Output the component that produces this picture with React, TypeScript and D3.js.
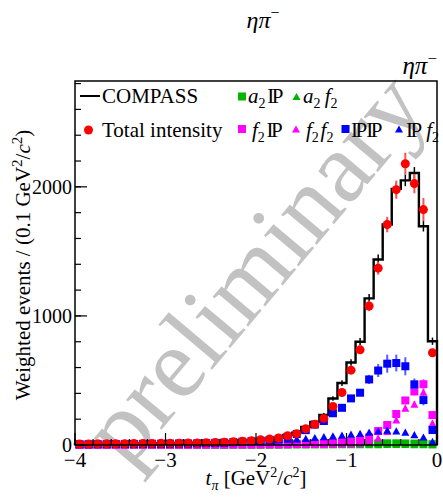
import React from 'react';
import * as d3 from 'd3';

// t_pi binning: 40 bins of 0.1 GeV^2/c^2 from -4 to 0
const tMin = -4;
const tMax = 0;
const nBins = 40;

// COMPASS data (histogram) and its statistical errors
const compass = [7, 9, 8, 10, 9, 11, 10, 12, 12, 14, 13, 15, 15, 17, 19, 21, 23, 27, 31, 35, 42, 48, 57, 78, 96, 140, 178, 232, 360, 480, 639, 800, 1136, 1437, 1708, 1984, 2050, 2107, 1695, 804];
const compassErr = [3, 3, 3, 3, 3, 3, 3, 4, 4, 4, 4, 4, 4, 4, 4, 5, 5, 5, 6, 6, 6, 7, 8, 9, 10, 12, 13, 15, 18, 22, 25, 28, 34, 38, 41, 45, 45, 46, 41, 28];

// Model: total intensity
const total = [8, 8, 9, 9, 10, 10, 11, 11, 12, 13, 13, 14, 15, 16, 18, 20, 22, 26, 30, 33, 40, 46, 54, 72, 88, 126, 160, 206, 299, 407, 580, 737, 1077, 1370, 1708, 1978, 2179, 2025, 1824, 715];
const totalErr = [2, 2, 2, 2, 2, 2, 2, 2, 2, 3, 3, 3, 3, 3, 3, 4, 4, 4, 5, 5, 6, 6, 7, 8, 9, 11, 12, 14, 17, 20, 24, 28, 40, 50, 60, 70, 85, 75, 90, 30];

// Model components
const a2IP = [1, 1, 1, 1, 1, 1, 1, 1, 1, 1, 1, 2, 2, 2, 2, 2, 2, 3, 3, 3, 3, 4, 4, 4, 5, 5, 6, 6, 7, 8, 9, 10, 11, 12, 13, 13, 12, 11, 9, 6];
const a2f2 = [0, 0, 0, 0, 0, 0, 0, 0, 0, 0, 0, 0, 1, 1, 1, 1, 1, 1, 1, 1, 1, 1, 1, 2, 2, 2, 2, 2, 2, 3, 3, 3, 3, 3, 4, 4, 4, 3, 3, 2];
const f2IP = [2, 2, 2, 2, 2, 2, 3, 3, 3, 3, 3, 3, 3, 4, 4, 4, 4, 5, 5, 5, 6, 6, 7, 8, 9, 10, 12, 14, 18, 22, 28, 38, 58, 108, 155, 240, 345, 415, 471, 232];
const f2IPErr = [0, 0, 0, 0, 0, 0, 0, 0, 0, 0, 0, 0, 0, 0, 0, 0, 0, 0, 0, 0, 1, 1, 1, 1, 1, 2, 2, 2, 3, 3, 4, 5, 7, 10, 14, 20, 28, 30, 40, 25];
const f2f2 = [1, 1, 1, 1, 1, 1, 1, 1, 1, 1, 1, 1, 1, 1, 1, 2, 2, 2, 2, 2, 2, 3, 3, 3, 4, 4, 5, 5, 6, 8, 10, 15, 25, 55, 105, 195, 285, 317, 410, 170];
const f2f2Err = [0, 0, 0, 0, 0, 0, 0, 0, 0, 0, 0, 0, 0, 0, 0, 0, 0, 0, 0, 0, 0, 0, 0, 0, 1, 1, 1, 1, 1, 2, 2, 3, 5, 8, 12, 18, 22, 25, 30, 20];
const ipIP = [6, 6, 7, 7, 8, 8, 9, 9, 10, 10, 11, 12, 12, 13, 15, 17, 19, 22, 26, 29, 34, 40, 48, 64, 85, 115, 158, 186, 246, 288, 361, 405, 508, 577, 630, 635, 610, 470, 348, 116];
const ipIPErr = [1, 1, 1, 1, 1, 1, 1, 1, 1, 1, 1, 1, 2, 2, 2, 2, 2, 3, 3, 3, 4, 4, 5, 6, 7, 8, 10, 12, 15, 18, 22, 25, 35, 50, 70, 65, 70, 45, 40, 25];
const ipf2 = [5, 5, 6, 6, 6, 7, 7, 8, 8, 9, 9, 10, 11, 12, 13, 15, 17, 20, 24, 28, 31, 35, 40, 45, 48, 52, 58, 65, 70, 76, 84, 90, 100, 110, 116, 110, 100, 80, 62, 28];
const ipf2Err = [0, 0, 0, 0, 0, 0, 0, 0, 0, 0, 0, 0, 1, 1, 1, 1, 1, 1, 1, 1, 2, 2, 2, 2, 2, 3, 3, 3, 3, 4, 4, 4, 5, 5, 6, 6, 6, 5, 5, 4];

// Axis ticks
const xTicks = [-4, -3, -2, -1, 0];
const xTickLabels = ['\u22124', '\u22123', '\u22122', '\u22121', '0'];
const yTicks = [0, 1000, 2000];
const yTickLabels = ['0', '1000', '2000'];

const W = 443;
const H = 497;
const M = { left: 75, right: 437, top: 81, bottom: 445 };
const yMax = 2820;

const RED = '#ff0000';
const BLUE = '#0000ff';
const MAGENTA = '#ff00ff';
const GREEN = '#00b400';
const SERIF = '"Liberation Serif", "Times New Roman", serif';

const x = d3.scaleLinear().domain([tMin, tMax]).range([M.left, M.right]);
const y = d3.scaleLinear().domain([0, yMax]).range([M.bottom, M.top]);
const binW = (tMax - tMin) / nBins;
const edges = d3.range(nBins + 1).map((i) => tMin + i * binW);
const centers = d3.range(nBins).map((i) => tMin + (i + 0.5) * binW);

type Shape = 'circle' | 'square' | 'triangle';

function Marker({ cx, cy, shape, color, size }: { cx: number; cy: number; shape: Shape; color: string; size: number }) {
  if (shape === 'circle') return <circle cx={cx} cy={cy} r={size / 2} fill={color} />;
  if (shape === 'square') return <rect x={cx - size / 2} y={cy - size / 2} width={size} height={size} fill={color} />;
  const h = size * 0.9;
  return (
    <path
      d={`M${cx - size / 2},${cy + h / 2}L${cx + size / 2},${cy + h / 2}L${cx},${cy - h / 2}Z`}
      fill={color}
    />
  );
}

function Series({ values, errors, shape, color, errColor, size }: {
  values: number[]; errors?: number[]; shape: Shape; color: string; errColor: string; size: number;
}) {
  return (
    <g>
      {errors &&
        values.map((v, i) =>
          errors[i] > 0 ? (
            <line key={'e' + i} x1={x(centers[i])} x2={x(centers[i])} y1={y(v - errors[i])} y2={y(v + errors[i])} stroke={errColor} strokeWidth={2} />
          ) : null
        )}
      {values.map((v, i) => (
        <Marker key={i} cx={x(centers[i])} cy={y(v)} shape={shape} color={color} size={size} />
      ))}
    </g>
  );
}

// Pomeron symbol: I and P set closely together
function IP({ dx = 0 }: { dx?: number }) {
  return (
    <>
      <tspan dx={dx}>I</tspan>
      <tspan dx={-2.5}>P</tspan>
    </>
  );
}

function F2({ dx = 0 }: { dx?: number }) {
  return (
    <>
      <tspan dx={dx} fontStyle="italic">f</tspan>
      <tspan fontSize={14} dy={5}>2</tspan>
      <tspan dy={-5}>{'\u200a'}</tspan>
    </>
  );
}

export default function App() {
  const histPath =
    `M${x(edges[0])},${y(0)}` +
    compass.map((v, i) => `L${x(edges[i])},${y(v)}L${x(edges[i + 1])},${y(v)}`).join('') +
    `L${x(edges[nBins])},${y(0)}`;

  const xMinor = d3.range(-4, 0.001, 0.2).map((v) => Math.round(v * 10) / 10);
  const yMinor = d3.range(0, yMax + 1, 200);

  return (
    <svg width={W} height={H} style={{ position: 'absolute', left: 0, top: 0, background: '#fff' }} fontFamily={SERIF}>
      <rect x={0} y={0} width={W} height={H} fill="#fff" />

      {/* titles */}
      <text x={263} y={28} textAnchor="middle" fontSize={24} fontStyle="italic">
        ηπ<tspan dy={-10} fontSize={16} fontStyle="normal">−</tspan>
      </text>
      <text x={437} y={74} textAnchor="end" fontSize={25} fontStyle="italic">
        ηπ<tspan dy={-10} fontSize={17} fontStyle="normal">−</tspan>
      </text>

      {/* watermark */}
      <text
        transform="translate(256,270) rotate(-50)"
        textAnchor="middle"
        dy="0.3em"
        fontSize={101}
        fill="#c2c2c2"
      >
        preliminary
      </text>

      {/* histogram */}
      {compass.map((v, i) => (
        <line key={'he' + i} x1={x(centers[i])} x2={x(centers[i])} y1={y(v - compassErr[i])} y2={y(v + compassErr[i])} stroke="#000" strokeWidth={1.5} />
      ))}
      <path d={histPath} fill="none" stroke="#000" strokeWidth={2.4} />

      {/* model components */}
      <Series values={a2IP} shape="square" color={GREEN} errColor={GREEN} size={8} />
      <Series values={a2f2} shape="triangle" color={GREEN} errColor={GREEN} size={8} />
      <Series values={f2IP} errors={f2IPErr} shape="square" color={MAGENTA} errColor="#ff66ff" size={8} />
      <Series values={f2f2} errors={f2f2Err} shape="triangle" color={MAGENTA} errColor="#ff66ff" size={8} />
      <Series values={ipIP} errors={ipIPErr} shape="square" color={BLUE} errColor="#5a5aff" size={8} />
      <Series values={ipf2} errors={ipf2Err} shape="triangle" color={BLUE} errColor="#5a5aff" size={8} />
      <Series values={total} errors={totalErr} shape="circle" color={RED} errColor="#ff5050" size={9} />

      {/* frame */}
      <rect x={M.left} y={M.top} width={M.right - M.left} height={M.bottom - M.top} fill="none" stroke="#000" strokeWidth={1.5} />

      {/* x axis ticks */}
      {xMinor.map((t) => (
        <line key={'xm' + t} x1={x(t)} x2={x(t)} y1={M.bottom} y2={M.bottom - 6} stroke="#000" strokeWidth={1.2} />
      ))}
      {xTicks.map((t, i) => (
        <g key={'xt' + t}>
          <line x1={x(t)} x2={x(t)} y1={M.bottom} y2={M.bottom - 12} stroke="#000" strokeWidth={1.2} />
          <text x={x(t)} y={467} textAnchor="middle" fontSize={21}>
            {xTickLabels[i]}
          </text>
        </g>
      ))}

      {/* y axis ticks */}
      {yMinor.map((v) => (
        <line key={'ym' + v} x1={M.left} x2={M.left + 6} y1={y(v)} y2={y(v)} stroke="#000" strokeWidth={1.2} />
      ))}
      {yTicks.map((v, i) => (
        <g key={'yt' + v}>
          <line x1={M.left} x2={M.left + 12} y1={y(v)} y2={y(v)} stroke="#000" strokeWidth={1.2} />
          <text x={72} y={y(v) + 7} textAnchor="end" fontSize={20}>
            {yTickLabels[i]}
          </text>
        </g>
      ))}

      {/* axis titles */}
      <text x={256} y={485} textAnchor="middle" fontSize={21}>
        <tspan fontStyle="italic">t</tspan>
        <tspan fontSize={14} dy={5} fontStyle="italic">π</tspan>
        <tspan dy={-5}> [GeV</tspan>
        <tspan fontSize={14} dy={-8}>2</tspan>
        <tspan dy={8}>/</tspan>
        <tspan fontStyle="italic">c</tspan>
        <tspan fontSize={14} dy={-8}>2</tspan>
        <tspan dy={8}>]</tspan>
      </text>
      <text transform="translate(30,265) rotate(-90)" textAnchor="middle" fontSize={21}>
        Weighted events / (0.1 GeV<tspan fontSize={15} dy={-8}>2</tspan>
        <tspan dy={8}>/</tspan>
        <tspan fontStyle="italic">c</tspan>
        <tspan fontSize={15} dy={-8}>2</tspan>
        <tspan dy={8}>)</tspan>
      </text>

      {/* legend */}
      <g fontSize={21}>
        <line x1={80} x2={100} y1={96} y2={96} stroke="#000" strokeWidth={2} />
        <text x={102} y={103}>COMPASS</text>

        <Marker cx={242} cy={96.5} shape="square" color={GREEN} size={8} />
        <text x={248} y={103}>
          <tspan fontStyle="italic">a</tspan>
          <tspan fontSize={14} dy={5}>2</tspan>
          <tspan dy={-5}>{'\u200a'}</tspan>
          <IP />
        </text>
        <Marker cx={296.5} cy={96.5} shape="triangle" color={GREEN} size={8} />
        <text x={303} y={103}>
          <tspan fontStyle="italic">a</tspan>
          <tspan fontSize={14} dy={5}>2</tspan>
          <tspan dy={-5}>{'\u2009'}</tspan>
          <F2 />
        </text>

        <Marker cx={88.5} cy={130} shape="circle" color={RED} size={9} />
        <text x={102} y={137}>Total intensity</text>

        <Marker cx={242} cy={129} shape="square" color={MAGENTA} size={8} />
        <text x={252} y={137}>
          <F2 />
          <IP />
        </text>
        <Marker cx={296} cy={129} shape="triangle" color={MAGENTA} size={8} />
        <text x={306} y={137}>
          <F2 />
          <F2 />
        </text>
        <Marker cx={345.5} cy={129} shape="square" color={BLUE} size={8} />
        <text x={351} y={137}>
          <IP />
          <IP dx={-1} />
        </text>
        <Marker cx={399} cy={129} shape="triangle" color={BLUE} size={8} />
        <text x={406} y={137}>
          <IP />
          <F2 dx={4} />
        </text>
      </g>
    </svg>
  );
}
